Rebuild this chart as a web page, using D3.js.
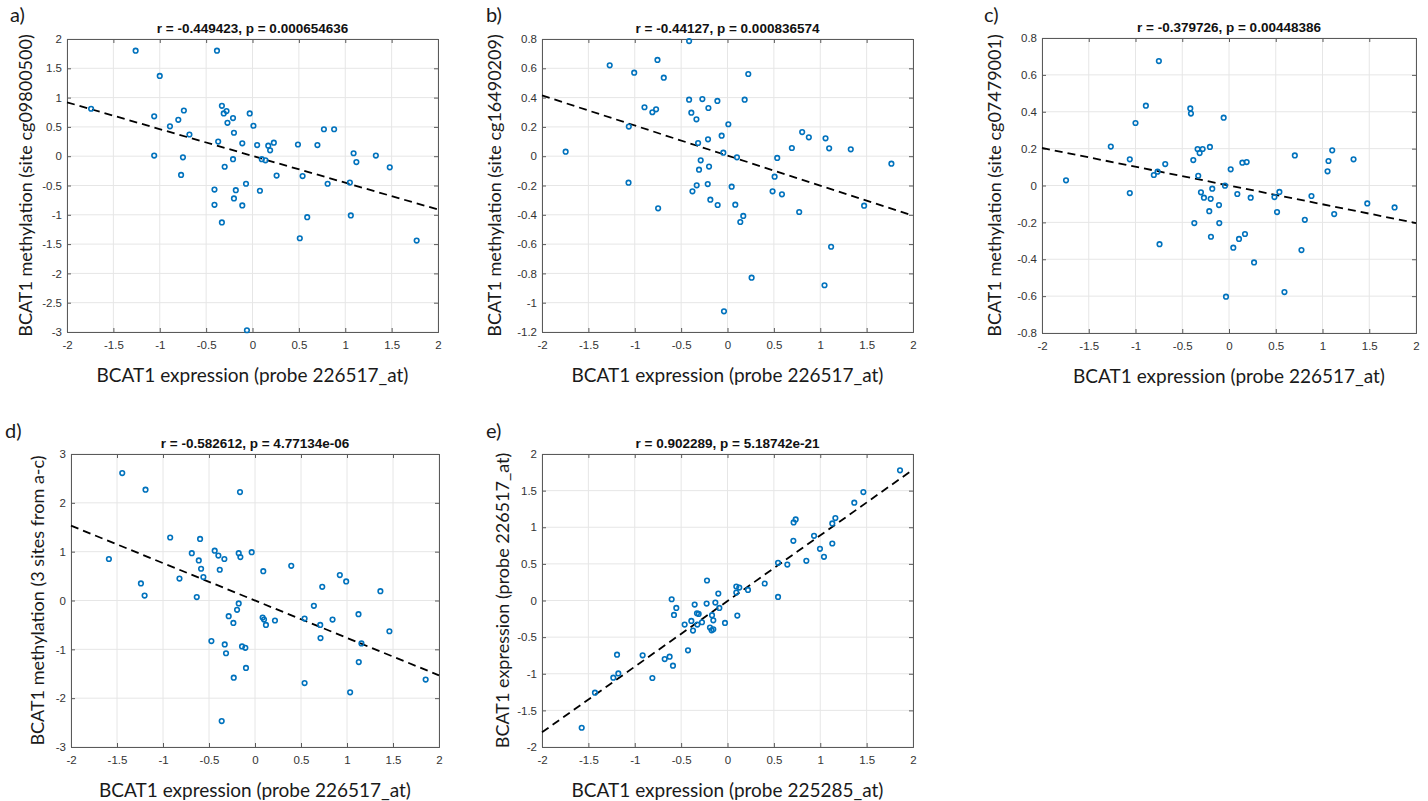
<!DOCTYPE html>
<html>
<head>
<meta charset="utf-8">
<script src="https://cdn.jsdelivr.net/npm/d3@7"></script>
<style>
  body { margin: 0; background: #fff; }
  .tick text { font-family: "Liberation Sans", Arial, sans-serif; font-size: 11.5px; fill: #333; }
  .ttl { font-family: "Liberation Sans", Arial, sans-serif; font-size: 13.5px; font-weight: bold; fill: #111; }
  .lbl { font-family: Lato, "Open Sans", sans-serif; font-size: 19px; fill: #1a1a1a; }
</style>
</head>
<body>
<svg id="chart" width="1428" height="801"></svg>
<script>
// ---- data ----
const xTicks = [-2, -1.5, -1, -0.5, 0, 0.5, 1, 1.5, 2];
const aYTicks = [-3, -2.5, -2, -1.5, -1, -0.5, 0, 0.5, 1, 1.5, 2];
const bYTicks = [-1.2, -1, -0.8, -0.6, -0.4, -0.2, 0, 0.2, 0.4, 0.6, 0.8];
const cYTicks = [-0.8, -0.6, -0.4, -0.2, 0, 0.2, 0.4, 0.6, 0.8];
const dYTicks = [-3, -2, -1, 0, 1, 2, 3];
const eYTicks = [-2, -1.5, -1, -0.5, 0, 0.5, 1, 1.5, 2];

const titles = [
  "r = -0.449423, p = 0.000654636",
  "r = -0.44127, p = 0.000836574",
  "r = -0.379726, p = 0.00448386",
  "r = -0.582612, p = 4.77134e-06",
  "r = 0.902289, p = 5.18742e-21"
];
const xLabels = [
  "BCAT1 expression (probe 226517_at)",
  "BCAT1 expression (probe 226517_at)",
  "BCAT1 expression (probe 226517_at)",
  "BCAT1 expression (probe 226517_at)",
  "BCAT1 expression (probe 225285_at)"
];
const yLabels = [
  "BCAT1 methylation (site cg09800500)",
  "BCAT1 methylation (site cg16490209)",
  "BCAT1 methylation (site cg07479001)",
  "BCAT1 methylation (3 sites from a-c)",
  "BCAT1 expression (probe 226517_at)"
];
const letters = ["a)", "b)", "c)", "d)", "e)"];

// fitted lines: [intercept, slope]
const fits = [[0.005, -0.4575], [0.0045, -0.205], [0.0, -0.1018], [0.0, -0.766], [-0.007, 0.8965]];

const aX = [-1.26,-0.383,-1.0,-1.74,-1.06,-0.74,-0.80,-0.89,-0.68,-1.06,-0.75,-0.77,-0.33,-0.31,-0.28,-0.21,-0.27,-0.20,-0.37,-0.03,0.01,-0.11,0.05,0.17,0.23,0.19,0.10,0.14,-0.21,-0.30,0.26,-0.07,0.08,-0.41,-0.18,-0.20,-0.41,-0.11,-0.33,-0.06,0.49,0.70,0.77,0.88,0.54,0.81,1.09,1.12,1.33,1.48,1.05,1.06,0.59,0.51,1.77];
const aY = [1.80,1.80,1.37,0.81,0.68,0.78,0.62,0.51,0.37,0.01,-0.02,-0.32,0.86,0.73,0.77,0.65,0.57,0.40,0.25,0.73,0.52,0.22,0.19,0.18,0.23,0.10,-0.05,-0.07,-0.05,-0.18,-0.33,-0.47,-0.59,-0.57,-0.58,-0.72,-0.83,-0.84,-1.13,-2.97,0.20,0.19,0.46,0.46,-0.34,-0.47,0.05,-0.10,0.01,-0.19,-0.45,-1.01,-1.04,-1.40,-1.44];

const bX = [-0.414,-1.27,-0.755,-1.006,-0.687,0.224,-0.414,-0.271,-0.109,0.185,-0.895,-0.77,-0.81,-0.39,-0.206,-0.335,0.009,-1.064,-0.063,-0.21,-0.317,-0.045,-1.745,0.102,-0.289,-0.199,-0.307,-0.332,-0.213,-0.378,0.045,-1.067,-0.185,-0.106,0.084,-0.748,0.170,0.138,0.536,0.508,0.486,0.587,0.694,0.805,0.877,1.057,1.096,1.329,1.767,1.473,0.773,1.117,0.260,1.046,-0.038];
const bY = [0.786,0.62,0.657,0.570,0.536,0.561,0.386,0.390,0.377,0.386,0.334,0.32,0.30,0.297,0.329,0.252,0.218,0.202,0.140,0.115,0.090,0.024,0.031,-0.008,-0.028,-0.071,-0.092,-0.199,-0.190,-0.240,-0.208,-0.181,-0.297,-0.333,-0.331,-0.356,-0.408,-0.449,-0.012,-0.140,-0.240,-0.260,0.056,0.165,0.129,0.122,0.054,0.047,-0.051,-0.338,-0.381,-0.618,-0.829,-0.881,-1.059];

const cX = [-0.75,-0.889,-0.414,-0.407,-0.057,-1.0,-1.264,-0.336,-0.282,-0.204,-0.314,1.104,0.704,-1.061,-0.382,1.064,1.332,0.143,0.189,-0.682,0.018,1.054,-0.764,-0.804,-0.329,-1.743,-0.043,-0.179,-1.061,-0.3,0.089,0.539,-0.268,-0.196,0.232,0.486,0.882,-0.107,1.479,1.771,-0.211,0.514,1.125,0.811,-0.371,-0.104,0.171,-0.193,0.107,0.046,-0.743,0.775,0.268,0.593,-0.032];
const cY = [0.675,0.433,0.418,0.390,0.368,0.339,0.211,0.198,0.198,0.209,0.176,0.191,0.163,0.142,0.138,0.133,0.142,0.124,0.127,0.116,0.088,0.077,0.075,0.057,0.053,0.028,-0.001,-0.017,-0.041,-0.037,-0.046,-0.035,-0.066,-0.072,-0.066,-0.063,-0.057,-0.106,-0.097,-0.119,-0.139,-0.144,-0.155,-0.186,-0.204,-0.204,-0.263,-0.278,-0.290,-0.337,-0.318,-0.350,-0.417,-0.578,-0.603];

const dX = [-1.443,-1.19,-0.163,-0.922,-0.597,-1.588,-0.687,-0.438,-0.398,-0.333,-0.177,-0.159,-0.036,-0.611,-0.586,-0.383,-0.561,-0.821,-1.24,-1.2,-0.633,0.09,0.394,0.922,0.991,0.731,1.363,-0.177,-0.195,-0.286,-0.235,0.083,0.098,0.119,0.217,0.539,0.64,0.709,0.843,1.125,1.461,0.712,1.157,-0.474,-0.329,-0.315,-0.141,-0.105,-0.098,1.128,-0.231,0.539,1.855,1.034,-0.362];
const dY = [2.61,2.27,2.22,1.29,1.26,0.85,0.97,1.02,0.92,0.85,0.97,0.89,0.99,0.82,0.65,0.63,0.48,0.45,0.35,0.10,0.07,0.60,0.71,0.52,0.39,0.28,0.19,-0.06,-0.19,-0.32,-0.46,-0.35,-0.39,-0.50,-0.41,-0.37,-0.11,-0.50,-0.39,-0.28,-0.63,-0.77,-0.88,-0.83,-0.90,-1.08,-0.94,-0.97,-1.38,-1.26,-1.58,-1.69,-1.62,-1.88,-2.47];

const eX = [1.860,1.465,1.367,0.735,0.713,1.163,1.130,0.710,0.933,1.130,0.997,1.040,0.850,0.545,0.645,0.545,0.401,-0.221,0.095,0.127,0.095,0.221,-0.099,-0.602,-0.354,-0.225,-0.131,-0.552,-0.088,-0.329,-0.311,-0.577,-0.167,0.106,-0.390,-0.153,-0.275,-0.462,-0.325,-0.027,-0.189,-0.171,-0.372,-0.153,-0.426,-1.191,-0.915,-0.677,-0.624,-0.588,-1.177,-1.231,-0.810,-1.429,-1.572];
const eY = [1.777,1.480,1.335,1.107,1.066,1.125,1.052,0.815,0.883,0.778,0.706,0.596,0.541,0.514,0.491,0.049,0.232,0.273,0.191,0.177,0.108,0.145,0.095,0.017,-0.056,-0.042,-0.028,-0.101,-0.101,-0.174,-0.183,-0.197,-0.201,-0.206,-0.279,-0.270,-0.297,-0.329,-0.329,-0.306,-0.370,-0.407,-0.411,-0.393,-0.680,-0.739,-0.748,-0.799,-0.767,-0.890,-0.995,-1.054,-1.058,-1.259,-1.737];

const allX = [aX, bX, cX, dX, eX];
const allY = [aY, bY, cY, dY, eY];
const allYTicks = [aYTicks, bYTicks, cYTicks, dYTicks, eYTicks];

// ---- layout ----
var panels = [
  { left: 67,   right: 438,  top: 39,  bottom: 332, ylx: 32,   lx: 10,  ly: 22 },
  { left: 542,  right: 913,  top: 39,  bottom: 332, ylx: 501,  lx: 486, ly: 22 },
  { left: 1042, right: 1416, top: 38,  bottom: 333, ylx: 1001, lx: 984, ly: 22 },
  { left: 71,   right: 439,  top: 454, bottom: 747, ylx: 44,   lx: 5,   ly: 438 },
  { left: 542,  right: 913,  top: 454, bottom: 747, ylx: 509,  lx: 486, ly: 438 }
];

const svg = d3.select('#chart');
svg.append('rect').attr('width', 1428).attr('height', 801).attr('fill', '#fff');

panels.forEach(function(p, i) {
  var yt = allYTicks[i];
  var x = d3.scaleLinear().domain([-2, 2]).range([p.left, p.right]);
  var y = d3.scaleLinear().domain([yt[0], yt[yt.length - 1]]).range([p.bottom, p.top]);
  var g = svg.append('g');

  // grid
  g.selectAll('.gx').data(xTicks).enter().append('line')
    .attr('x1', d => x(d)).attr('x2', d => x(d))
    .attr('y1', p.top).attr('y2', p.bottom)
    .attr('stroke', '#e6e6e6').attr('stroke-width', 1);
  g.selectAll('.gy').data(yt).enter().append('line')
    .attr('y1', d => y(d)).attr('y2', d => y(d))
    .attr('x1', p.left).attr('x2', p.right)
    .attr('stroke', '#e6e6e6').attr('stroke-width', 1);

  // axes (ticks inward, box on)
  var fmt = d => String(d);
  var ax = [
    g.append('g').attr('transform', `translate(0,${p.bottom})`)
      .call(d3.axisBottom(x).tickValues(xTicks).tickFormat(fmt).tickSize(-4).tickPadding(9)),
    g.append('g').attr('transform', `translate(${p.left},0)`)
      .call(d3.axisLeft(y).tickValues(yt).tickFormat(fmt).tickSize(-4).tickPadding(5)),
    g.append('g').attr('transform', `translate(0,${p.top})`)
      .call(d3.axisTop(x).tickValues(xTicks).tickFormat('').tickSize(-4)),
    g.append('g').attr('transform', `translate(${p.right},0)`)
      .call(d3.axisRight(y).tickValues(yt).tickFormat('').tickSize(-4))
  ];
  ax.forEach(function(a) {
    a.select('.domain').attr('stroke', '#5a5a5a').attr('stroke-width', 1);
    a.selectAll('.tick line').attr('stroke', '#5a5a5a');
  });

  // fit line
  var f = fits[i];
  g.append('line')
    .attr('x1', x(-2)).attr('y1', y(f[0] + f[1] * -2))
    .attr('x2', x(2)).attr('y2', y(f[0] + f[1] * 2))
    .attr('stroke', '#000').attr('stroke-width', 1.8)
    .attr('stroke-dasharray', '8,5');

  // points
  var pts = allX[i].map((v, j) => [v, allY[i][j]]);
  g.selectAll('circle').data(pts).enter().append('circle')
    .attr('cx', d => x(d[0])).attr('cy', d => y(d[1]))
    .attr('r', 2.3)
    .attr('fill', 'none').attr('stroke', '#0072BD').attr('stroke-width', 1.6);

  // texts
  var cx = (p.left + p.right) / 2, cy = (p.top + p.bottom) / 2;
  g.append('text').attr('class', 'ttl').attr('x', cx).attr('y', p.top - 6)
    .attr('text-anchor', 'middle').text(titles[i]);
  g.append('text').attr('class', 'lbl').attr('x', cx).attr('y', p.bottom + 50)
    .attr('text-anchor', 'middle').text(xLabels[i]);
  g.append('text').attr('class', 'lbl')
    .attr('transform', `translate(${p.ylx},${cy}) rotate(-90)`)
    .attr('text-anchor', 'middle').style('font-size', '18px').text(yLabels[i]);
  g.append('text').attr('class', 'lbl').attr('x', p.lx).attr('y', p.ly)
    .style('font-size', '20px').text(letters[i]);
});
</script>
</body>
</html>
